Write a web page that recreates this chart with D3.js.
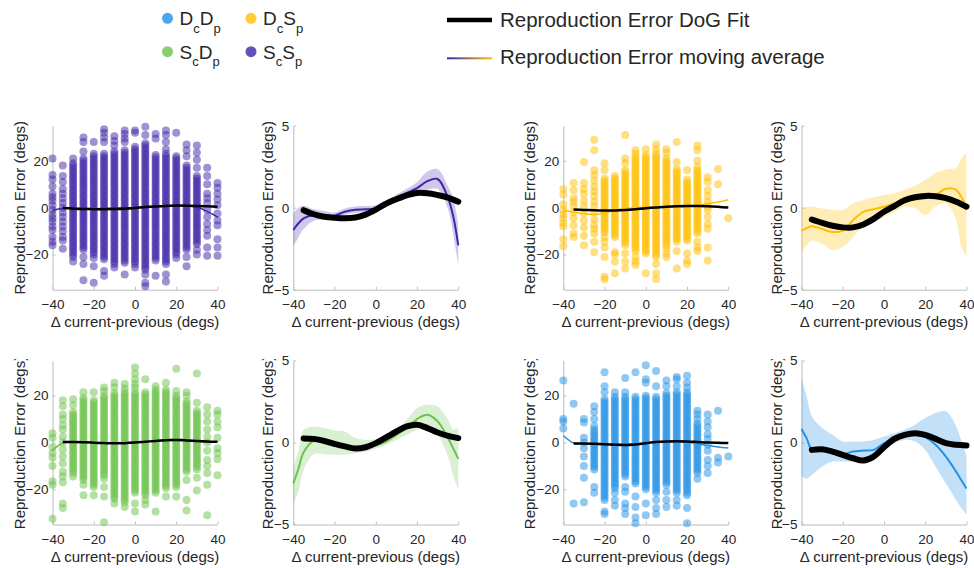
<!DOCTYPE html>
<html><head><meta charset="utf-8">
<script src="https://cdn.jsdelivr.net/npm/d3@7"></script>
<style>body{margin:0;background:#fff} text{font-family:Arial,"Liberation Sans",Helvetica,sans-serif;fill:#262626}</style>
</head><body><svg id="c" width="974" height="568"></svg>
<script>
// ---------- DATA ----------
const xCols = [-40,-35,-30,-25,-20,-15,-10,-5,0,5,10,15,20,25,30,35,40];
const xTicks = [-40,-20,0,20,40];
const scatTicks = [-20,0,20];
const zoomTicks = [-5,0,5];

// S_cS_p scatter: dense extent [lo,hi] per column, plus separate points
const ssDense = [null,null,[-21,19],[-18,21],[-20,23],[-22,23.5],[-24,24],[-23.5,25],[-24,26.5],[-26.5,28],[-22.5,23],[-24,23.5],[-20,22],[-18,18],[-15.5,14],null,null];
const ssOut = [[21,14,12,9,6,4.5,3,1,-1,-3,-4.5,-6,-8,-9.5,-12.5,-14.5,-16],[18,13.5,11,8,6,4,2,0,-2,-4,-6,-8,-10,-12.5,-14,-17.5],[21,-23],[30,28,24,-21,-24,-31],[28,-21.5,-25,-32],[33.5,32,30,28,-27,-29],[30.5,28.5,26.5,-25.5],[33,31.5,29.5,28,-28.5],[33,32,-25.5],[34.5,31,-28.5,-32,-33.5],[31.5,29.5,-29],[33,31,28,25,-28.5,-31.5],[32,-21.5],[27,24.5,22,-21,-25],[26.5,23.5,20.5,17,-18,-20],[17,13.5,10,6,4,2,-1,-4,-7,-9.5,-12,-17,-20.5],[10.5,8.5,6,3.5,1,-2.5,-5.5,-7.5,-13.5,-17,-20.5]];

// D_cS_p scatter
const dsDense = [null,null,null,null,[-10.5,13],[-12.5,14],[-16,16.5],[-18.5,21.5],[-19.5,23],[-21,23],[-16,21.5],[-14.5,16.5],[-14,12.5],[-11,16],null,null,null];
const dsOut = [[8,5.5,1.5,-1,-3,-4.5,-6.5,-8,-13.5,-16.5],[10.5,7.5,4,2.5,0.5,-2,-4.5,-7.5,-11,-12.5],[19.5,10.5,8,6,3,0.5,-2.5,-5.5,-8.5,-12,-16],[29,24.5,16,14,11.5,9,7,5,2.5,0.5,-2,-5,-7.5,-9,-11,-14.5,-19],[19,16,-12.5,-14.5,-17,-21,-29.5,-30.5],[-19,-20,-23,-28],[31,21,19,-19.5,-23,-26],[24.5,23,-21,-23,-24.5],[25,-28],[27,25,-24,-28,-30.5],[25,23.5,-17.5,-19.5,-21],[28,19.5,-18.5,-26],[16,-19.5,-22.5,-24],[26.5,24.5,20,17.5,-14.5,-17,-18.5],[13,11,7.5,5,2.5,0.5,-1,-4,-7,-9,-17,-22.5],[16.5,10],[-4.5]];

// S_cD_p scatter
const sdDense = [null,null,[-13,13.5],[-16,19.5],[-19,18.5],[-14,20],[-24,21.5],[-25.5,21.5],[-21.5,21.5],[-22.5,22],[-21.5,23],[-19.5,23],[-19,20],[-12.5,17.5],[-11.5,13.5],null,null];
const sdOut = [[4,2,-2,-4.5,-6.5,-10,-16.5,-18,-32.5],[18,15.5,12,10,7.5,5.5,2.5,0,-3,-6,-9,-12.5,-14.5,-17,-26,-28],[18.5,16,-14.5],[21.5,-18,-22.5],[21.5,-22.5],[23.5,22,-15.5,-19,-23,-34],[25.5,23.5,-26],[25,23,-27.5],[32,29.5,27,25,23.5,-26,-29.5],[27,-24.5,-26.5],[24,-29.5],[25.5,-23],[31.5,22,-23],[21.5,20,-16,-24.5,-29],[29.5,17,-15,-20.5],[15,12,9,5.5,2.5,0,-3.5,-7.5,-10,-13,-18,-31],[13.5,12,9,6.5,2,-2.5,-4.5,-7,-14]];

// D_cD_p scatter
const ddDense = [null,null,null,[-11.5,5.5],[-24.5,19],[-19.5,20],[-14.5,20],[-17.5,18.5],[-20,20],[-21.5,20],[-18,21.5],[-21.5,21.5],[-22.5,21.5],[-13,8.5],null,null,null];
const ddOut = [[26.5,10,9,6],[16.5,-26],[10,8.5,2,0,-2.5,-6,-10,-15,-25.5],[15.5,13,10,7,-19,-21.5],[30,24,21.5,-29.5,-30.5],[21.5,-21.5,-24.5,-27],[27.5,21.5,-19,-21,-26,-28,-30.5],[30,19.5,-23,-27.5,-32,-34.5],[33,27,25.5,-26,-31],[30.5,24,-24.5,-28,-30.5],[26.5,24,-21,-24.5,-27.5],[28,27,24,-24.5,-27],[28.5,25.5,23.5,-28,-34.5],[13.5,12,10,-15.5],[12,9,6.5,3.5,1.5,-1,-3.5,-7.5,-10,-13],[13.5,-6.5,-8.5],[-6]];

// moving averages shown over the scatter (at xCols)
const ssScatMA = [-1.2,-0.2,-0.2,-0.3,-0.4,-0.3,-0.2,-0.1,0,0.2,0.5,0.8,0.9,0.8,0.3,-1.6,-4];
const dsScatMA = [-1.1,-1.9,-2.6,-2.9,-2.3,-1.1,-0.3,0,0.3,0.3,0.3,0.3,0.4,1.0,1.7,2.4,3.4];
const sdScatMA = [-3.3,-0.2,0.3,0.2,0,-0.2,-0.3,-0.2,0,0.4,0.9,1.3,1.5,1.2,0.6,0,0.4];
const ddScatMA = [3,-0.2,-0.6,-0.8,-0.9,-0.7,-0.6,-0.5,-0.2,0.2,0.4,0.3,0,-0.5,-1.3,-1.9,-2.3];

// moving averages (mean, upper, lower) for the zoomed panels
const maX = [-40,-37.5,-35,-30,-25,-20,-15,-10,-5,0,5,10,15,20,25,30,35,37.5,40];
const ssMean  = [-1.36,-0.95,-0.65,-0.45,-0.45,-0.48,-0.25,-0.12,-0.1,-0.05,0.22,0.58,0.9,1.2,1.62,1.75,0.6,-0.5,-2.3];
const ssUpper = [-0.35,0.0,0.12,-0.1,-0.2,-0.3,-0.05,0.08,0.1,0.15,0.42,0.8,1.15,1.55,2.2,2.35,1.3,0.6,-1.1];
const ssLower = [-2.35,-1.8,-1.3,-0.8,-0.7,-0.68,-0.45,-0.32,-0.3,-0.25,0.02,0.36,0.65,0.85,1.1,1.15,-0.1,-1.6,-3.5];
const dsMean  = [-1.42,-1.25,-1.13,-1.3,-1.48,-1.4,-0.76,-0.25,-0.1,0.06,0.27,0.47,0.51,0.58,0.78,1.15,1.09,0.65,0.02];
const dsUpper = [0,0.05,0.06,-0.05,-0.14,-0.14,0.27,0.47,0.64,0.78,0.88,1.09,1.34,1.7,2.12,2.33,2.43,3.0,3.35];
const dsLower = [-2.72,-2.3,-2.0,-2.2,-2.6,-2.4,-1.8,-1.07,-0.76,-0.56,-0.25,0.06,-0.04,-0.45,0.06,0.27,-0.76,-2.4,-3.0];
const sdMean  = [-2.49,-1.6,-0.6,0.1,-0.04,-0.2,-0.29,-0.35,-0.29,-0.18,0.06,0.47,0.88,1.43,1.69,1.29,0.27,-0.35,-1.0];
const sdUpper = [-1.57,-0.5,0.78,0.98,0.88,0.73,0.67,0.27,0.16,0.2,0.47,0.78,1.39,2.1,2.3,2.2,1.39,0.8,0.88];
const sdLower = [-3.7,-3.0,-1.67,-0.71,-0.71,-0.75,-0.75,-0.65,-0.55,-0.4,-0.14,0.16,0.47,0.78,0.98,0.47,-0.86,-2.0,-2.9];
const ddMean  = [0.82,0.25,-0.41,-0.35,-0.49,-0.69,-0.55,-0.49,-0.45,-0.04,0.27,0.41,0.47,0.33,-0.14,-0.86,-1.78,-2.3,-2.8];
const ddUpper = [3.94,2.8,1.6,0.88,0.47,0.06,0.06,0.06,0.16,0.37,0.57,0.78,1.08,1.49,1.8,1.9,0.98,0.1,-0.8];
const ddLower = [-2.08,-2.2,-1.98,-1.47,-1.16,-1.16,-1.16,-1.06,-0.76,-0.35,-0.04,0.16,0.06,-0.45,-1.47,-2.5,-3.5,-4.0,-4.4];

// DoG fits
const dogX = [-35,-30,-25,-20,-15,-10,-5,0,5,10,15,20,25,30,35,40];
const ssDog = [-0.15,-0.4,-0.55,-0.62,-0.65,-0.6,-0.42,-0.12,0.25,0.52,0.75,0.9,0.88,0.77,0.62,0.37];
const dsDog = [-0.72,-0.93,-1.1,-1.2,-1.2,-1.02,-0.68,-0.25,0.1,0.45,0.64,0.72,0.7,0.58,0.36,0.06];
const sdDog = [0.25,0.22,0.1,-0.08,-0.24,-0.37,-0.29,-0.04,0.31,0.67,0.98,1.08,0.88,0.61,0.41,0.27];
const ddDog = [-0.45,-0.41,-0.55,-0.76,-0.96,-1.1,-0.86,-0.29,0.22,0.47,0.57,0.47,0.22,-0.04,-0.14,-0.18];

const legendLabels = [["D","c","D","p"],["D","c","S","p"],["S","c","D","p"],["S","c","S","p"]];
const lineLegend = ["Reproduction Error DoG Fit","Reproduction Error moving average"];

// ---------- DRAW ----------
const svg = d3.select("#c");
const C = {ss:"#3F25A6", ds:"#FFBF00", sd:"#6CC24A", dd:"#2391E6"};
const colX = [52.5, 293.3, 563.3, 801.5];
const rowY = [125.7, 360.5];
const W = 165, H = 164;
const axisCol = "#bdbdbd";

const defs = svg.append("defs");
const grad = defs.append("linearGradient").attr("id","g").attr("gradientUnits","userSpaceOnUse")
  .attr("x1",447).attr("x2",492).attr("y1",0).attr("y2",0);
grad.append("stop").attr("offset","0%").attr("stop-color","#3B27B8");
grad.append("stop").attr("offset","100%").attr("stop-color","#FFBF00");

function axes(g, x, y, yt, labOff, bottomRow) {
  const xa = g.append("g").attr("transform",`translate(0,${H})`)
    .call(d3.axisBottom(x).tickValues(xTicks).tickSize(-3).tickSizeOuter(0).tickPadding(10));
  const ya = g.append("g")
    .call(d3.axisLeft(y).tickValues(yt).tickSize(-3).tickSizeOuter(0).tickPadding(4));
  [xa, ya].forEach(a=>{
    a.selectAll("path,line").attr("stroke",axisCol);
    a.selectAll("text").attr("font-size",13.5).attr("fill","#262626").attr("font-family","Arial, 'Liberation Sans', sans-serif");
  });
  g.append("text").attr("x",W/2).attr("y",H+37.5).attr("text-anchor","middle").attr("font-size",15)
    .text("\u0394 current-previous (degs)");
  const yl = g.append("g");
  if (bottomRow) {
    const id = "clip" + Math.round(labOff*1000 + Math.random()*1e6);
    g.append("clipPath").attr("id",id).append("rect")
      .attr("x",-60).attr("y",-1.5).attr("width",80).attr("height",H+60);
    yl.attr("clip-path",`url(#${id})`);
  }
  yl.append("text").attr("transform",`translate(${-labOff},${H/2}) rotate(-90)`)
    .attr("text-anchor","middle").attr("font-size",15).text("Reproduction Error (degs)");
}

function scatterPanel(ci, ri, key, dense, outs, ma, dog) {
  const g = svg.append("g").attr("transform",`translate(${colX[ci]},${rowY[ri]})`);
  const x = d3.scaleLinear().domain([-40,40]).range([0,W]);
  const y = d3.scaleLinear().domain([-35,35]).range([H,0]);
  axes(g, x, y, scatTicks, 28, ri===1);
  const pts = [];
  xCols.forEach((xv,i)=>{
    const d = dense[i];
    if (d) d3.range(d[0], d[1]+0.001, 1).forEach(v=>pts.push([xv,v]));
    outs[i].forEach(v=>pts.push([xv,v]));
  });
  g.append("g").selectAll("circle").data(pts).join("circle")
    .attr("cx",d=>x(d[0])).attr("cy",d=>y(d[1])).attr("r",4)
    .attr("fill",C[key]).attr("fill-opacity",0.5);
  const line = d3.line().curve(d3.curveCatmullRom.alpha(0.5));
  g.append("path").attr("d",line(xCols.map((v,i)=>[x(v),y(ma[i])])))
    .attr("fill","none").attr("stroke",C[key]).attr("stroke-width",1.5);
  g.append("path").attr("d",line(dogX.map((v,i)=>[x(v),y(dog[i])])))
    .attr("fill","none").attr("stroke","#000").attr("stroke-width",2.5);
}

function zoomPanel(ci, ri, key, mean, up, lo, dog, bandOp) {
  const g = svg.append("g").attr("transform",`translate(${colX[ci]},${rowY[ri]})`);
  const x = d3.scaleLinear().domain([-40,40]).range([0,W]);
  const y = d3.scaleLinear().domain([-5,5]).range([H,0]);
  axes(g, x, y, zoomTicks, 20, ri===1);
  const cur = d3.curveCatmullRom.alpha(0.5);
  g.append("path").attr("d", d3.area().curve(cur).x((d,i)=>x(maX[i])).y0((d,i)=>y(lo[i])).y1((d,i)=>y(up[i]))(maX))
    .attr("fill",C[key]).attr("fill-opacity",bandOp);
  g.append("path").attr("d", d3.line().curve(cur)(maX.map((v,i)=>[x(v),y(mean[i])])))
    .attr("fill","none").attr("stroke",C[key]).attr("stroke-width",2);
  g.append("path").attr("d", d3.line().curve(cur)(dogX.map((v,i)=>[x(v),y(dog[i])])))
    .attr("fill","none").attr("stroke","#000").attr("stroke-width",6).attr("stroke-linecap","round");
}

scatterPanel(0,0,"ss",ssDense,ssOut,ssScatMA,ssDog);
zoomPanel(1,0,"ss",ssMean,ssUpper,ssLower,ssDog,0.25);
scatterPanel(2,0,"ds",dsDense,dsOut,dsScatMA,dsDog);
zoomPanel(3,0,"ds",dsMean,dsUpper,dsLower,dsDog,0.28);
scatterPanel(0,1,"sd",sdDense,sdOut,sdScatMA,sdDog);
zoomPanel(1,1,"sd",sdMean,sdUpper,sdLower,sdDog,0.25);
scatterPanel(2,1,"dd",ddDense,ddOut,ddScatMA,ddDog);
zoomPanel(3,1,"dd",ddMean,ddUpper,ddLower,ddDog,0.28);

// legend
const legCols = [C.dd, C.ds, C.sd, C.ss];
const legPos = [[167.5,18.3],[251,18.3],[167.5,51.7],[251,51.7]];
legPos.forEach((p,i)=>{
  svg.append("circle").attr("cx",p[0]).attr("cy",p[1]).attr("r",5.5).attr("fill",legCols[i]).attr("fill-opacity",0.8);
  const t = svg.append("text").attr("x",p[0]+12).attr("y",p[1]+6.8).attr("font-size",19);
  const L = legendLabels[i];
  t.append("tspan").text(L[0]);
  t.append("tspan").attr("dy",7.5).attr("font-size",13).text(L[1]);
  t.append("tspan").attr("dy",-7.5).text(L[2]);
  t.append("tspan").attr("dy",7.5).attr("font-size",13).text(L[3]);
});
svg.append("line").attr("x1",447).attr("x2",492).attr("y1",20).attr("y2",20).attr("stroke","#000").attr("stroke-width",4.5);
svg.append("rect").attr("x",447).attr("y",57.3).attr("width",45).attr("height",2).attr("fill","url(#g)");
svg.append("text").attr("x",500).attr("y",26.5).attr("font-size",20.5).text(lineLegend[0]);
svg.append("text").attr("x",500).attr("y",63.5).attr("font-size",20.5).text(lineLegend[1]);
</script></body></html>
